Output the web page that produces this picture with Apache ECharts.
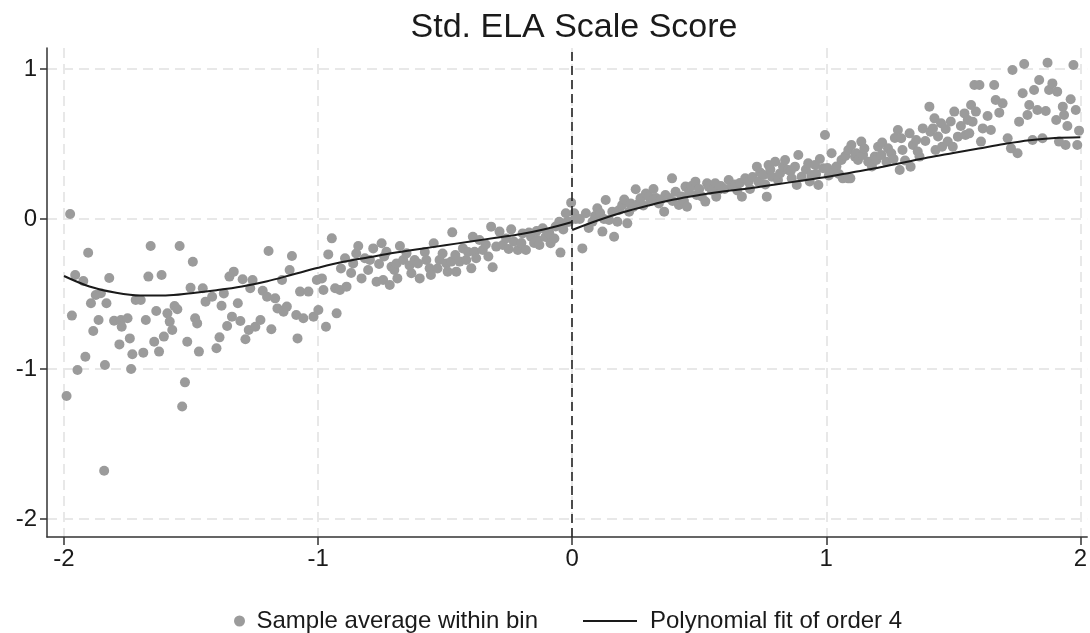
<!DOCTYPE html>
<html>
<head>
<meta charset="utf-8">
<title>Std. ELA Scale Score</title>
<script src="https://cdn.jsdelivr.net/npm/echarts@6/dist/echarts.min.js"></script>
<style>
  html, body { margin: 0; padding: 0; background: #ffffff; }
  #chart { width: 1090px; height: 633px; }
</style>
</head>
<body>
<div id="chart"></div>
<script>
// Running variable (centred at the cutoff) and axis ticks
const xTicks = [-2, -1, 0, 1, 2];
const yTicks = [-2, -1, 0, 1];

// Binned sample averages below the cutoff: [bin centre, mean score]
const binsBelow = [
  [-1.990, -1.180], [-1.976, 0.033], [-1.969, -0.644], [-1.956, -0.373], [-1.947, -1.007],
  [-1.924, -0.413], [-1.916, -0.918], [-1.905, -0.225], [-1.894, -0.562], [-1.885, -0.747],
  [-1.875, -0.507], [-1.864, -0.673], [-1.855, -0.495], [-1.842, -1.678], [-1.839, -0.973],
  [-1.833, -0.562], [-1.822, -0.393], [-1.803, -0.678], [-1.782, -0.836], [-1.776, -0.673],
  [-1.773, -0.718], [-1.750, -0.662], [-1.741, -0.796], [-1.736, -1.000], [-1.731, -0.902],
  [-1.718, -0.540], [-1.698, -0.540], [-1.688, -0.891], [-1.678, -0.673], [-1.668, -0.384],
  [-1.659, -0.180], [-1.645, -0.818], [-1.637, -0.613], [-1.626, -0.884], [-1.616, -0.373],
  [-1.607, -0.784], [-1.593, -0.629], [-1.584, -0.684], [-1.574, -0.740], [-1.565, -0.580],
  [-1.554, -0.602], [-1.545, -0.180], [-1.535, -1.250], [-1.524, -1.089], [-1.515, -0.818],
  [-1.502, -0.458], [-1.493, -0.285], [-1.484, -0.662], [-1.476, -0.696], [-1.469, -0.884],
  [-1.454, -0.462], [-1.443, -0.551], [-1.417, -0.518], [-1.400, -0.862], [-1.388, -0.789],
  [-1.380, -0.578], [-1.371, -0.496], [-1.358, -0.713], [-1.349, -0.384], [-1.339, -0.651],
  [-1.332, -0.351], [-1.316, -0.562], [-1.306, -0.680], [-1.297, -0.402], [-1.286, -0.802],
  [-1.273, -0.740], [-1.267, -0.462], [-1.258, -0.407], [-1.247, -0.718], [-1.227, -0.673],
  [-1.218, -0.478], [-1.201, -0.518], [-1.195, -0.213], [-1.184, -0.735], [-1.169, -0.529],
  [-1.160, -0.596], [-1.142, -0.407], [-1.136, -0.618], [-1.123, -0.584], [-1.112, -0.340],
  [-1.103, -0.247], [-1.086, -0.640], [-1.081, -0.796], [-1.071, -0.484], [-1.058, -0.662],
  [-1.038, -0.484], [-1.018, -0.651], [-1.005, -0.407], [-0.999, -0.607], [-0.985, -0.396],
  [-0.979, -0.473], [-0.969, -0.718], [-0.960, -0.236], [-0.946, -0.129], [-0.933, -0.462],
  [-0.927, -0.629], [-0.914, -0.473], [-0.910, -0.330], [-0.894, -0.262], [-0.888, -0.451],
  [-0.870, -0.360], [-0.862, -0.296], [-0.850, -0.230], [-0.842, -0.180], [-0.829, -0.396],
  [-0.816, -0.262], [-0.803, -0.340], [-0.796, -0.273], [-0.783, -0.196], [-0.770, -0.418],
  [-0.760, -0.300], [-0.750, -0.162], [-0.744, -0.407], [-0.740, -0.250], [-0.731, -0.218],
  [-0.718, -0.440], [-0.711, -0.318], [-0.700, -0.340], [-0.691, -0.296], [-0.688, -0.396],
  [-0.678, -0.180], [-0.665, -0.273], [-0.652, -0.229], [-0.640, -0.310], [-0.633, -0.362],
  [-0.620, -0.273], [-0.607, -0.296], [-0.600, -0.396], [-0.580, -0.220], [-0.574, -0.273],
  [-0.561, -0.329], [-0.556, -0.373], [-0.545, -0.162], [-0.530, -0.330], [-0.522, -0.273],
  [-0.510, -0.230], [-0.495, -0.296], [-0.490, -0.351], [-0.476, -0.284], [-0.472, -0.089],
  [-0.460, -0.240], [-0.456, -0.351], [-0.443, -0.284], [-0.430, -0.196], [-0.417, -0.273],
  [-0.410, -0.220], [-0.397, -0.329], [-0.391, -0.118], [-0.384, -0.218], [-0.378, -0.262],
  [-0.365, -0.140], [-0.352, -0.207], [-0.340, -0.170], [-0.330, -0.250], [-0.319, -0.051],
  [-0.313, -0.322], [-0.299, -0.184], [-0.286, -0.084], [-0.273, -0.173], [-0.260, -0.130],
  [-0.250, -0.200], [-0.240, -0.069], [-0.230, -0.150], [-0.214, -0.207], [-0.200, -0.160],
  [-0.195, -0.096], [-0.182, -0.207], [-0.170, -0.090], [-0.162, -0.118], [-0.150, -0.160],
  [-0.140, -0.080], [-0.136, -0.140], [-0.129, -0.173], [-0.116, -0.062], [-0.105, -0.120],
  [-0.090, -0.096], [-0.085, -0.162], [-0.070, -0.130], [-0.065, -0.050], [-0.051, -0.018],
  [-0.046, -0.224], [-0.035, -0.070], [-0.025, 0.038], [-0.020, -0.020], [-0.012, -0.018],
  [-0.004, 0.109]
];

// Binned sample averages above the cutoff
const binsAbove = [
  [0.008, 0.038], [0.014, 0.000], [0.030, 0.000], [0.040, -0.196], [0.054, 0.038],
  [0.065, -0.060], [0.080, -0.018], [0.090, 0.020], [0.099, 0.071], [0.110, 0.040],
  [0.119, -0.084], [0.125, 0.000], [0.132, 0.127], [0.145, -0.007], [0.158, 0.049],
  [0.165, -0.118], [0.178, -0.018], [0.185, 0.060], [0.197, 0.093], [0.205, 0.130],
  [0.217, -0.029], [0.224, 0.049], [0.230, 0.104], [0.240, 0.080], [0.250, 0.198],
  [0.260, 0.100], [0.269, 0.138], [0.280, 0.090], [0.290, 0.170], [0.302, 0.149],
  [0.310, 0.120], [0.320, 0.200], [0.330, 0.140], [0.341, 0.104], [0.350, 0.130],
  [0.362, 0.049], [0.367, 0.160], [0.380, 0.140], [0.393, 0.271], [0.395, 0.120],
  [0.407, 0.182], [0.420, 0.093], [0.430, 0.150], [0.440, 0.120], [0.446, 0.216],
  [0.452, 0.082], [0.460, 0.180], [0.470, 0.220], [0.485, 0.249], [0.490, 0.160],
  [0.500, 0.200], [0.510, 0.150], [0.524, 0.116], [0.531, 0.238], [0.537, 0.216],
  [0.550, 0.190], [0.563, 0.238], [0.567, 0.149], [0.576, 0.193], [0.585, 0.220],
  [0.600, 0.200], [0.616, 0.260], [0.629, 0.227], [0.640, 0.230], [0.650, 0.190],
  [0.660, 0.240], [0.668, 0.149], [0.681, 0.271], [0.694, 0.249], [0.700, 0.200],
  [0.710, 0.280], [0.727, 0.349], [0.733, 0.249], [0.740, 0.310], [0.753, 0.293],
  [0.760, 0.230], [0.766, 0.149], [0.773, 0.360], [0.780, 0.330], [0.786, 0.282],
  [0.799, 0.382], [0.810, 0.260], [0.818, 0.304], [0.830, 0.350], [0.838, 0.393],
  [0.851, 0.327], [0.860, 0.320], [0.864, 0.271], [0.877, 0.349], [0.884, 0.227],
  [0.890, 0.427], [0.903, 0.282], [0.920, 0.330], [0.929, 0.371], [0.935, 0.250],
  [0.942, 0.293], [0.956, 0.360], [0.960, 0.300], [0.969, 0.227], [0.975, 0.400],
  [0.988, 0.338], [0.995, 0.560], [1.005, 0.340], [1.010, 0.290], [1.021, 0.438],
  [1.033, 0.316], [1.040, 0.350], [1.050, 0.300], [1.060, 0.393], [1.065, 0.271],
  [1.075, 0.420], [1.086, 0.271], [1.087, 0.460], [1.095, 0.271], [1.099, 0.493],
  [1.113, 0.416], [1.118, 0.438], [1.125, 0.393], [1.138, 0.516], [1.145, 0.427],
  [1.150, 0.470], [1.165, 0.382], [1.180, 0.350], [1.191, 0.416], [1.197, 0.393],
  [1.204, 0.482], [1.217, 0.427], [1.220, 0.510], [1.237, 0.382], [1.243, 0.471],
  [1.256, 0.438], [1.265, 0.400], [1.270, 0.540], [1.282, 0.593], [1.289, 0.327],
  [1.295, 0.538], [1.300, 0.460], [1.310, 0.390], [1.328, 0.571], [1.332, 0.349],
  [1.341, 0.493], [1.354, 0.527], [1.360, 0.450], [1.367, 0.416], [1.380, 0.604],
  [1.390, 0.520], [1.406, 0.749], [1.410, 0.582], [1.420, 0.604], [1.426, 0.671],
  [1.430, 0.460], [1.440, 0.550], [1.452, 0.638], [1.456, 0.482], [1.470, 0.600],
  [1.478, 0.516], [1.490, 0.650], [1.498, 0.482], [1.504, 0.716], [1.518, 0.549],
  [1.530, 0.620], [1.544, 0.704], [1.548, 0.560], [1.557, 0.660], [1.563, 0.571],
  [1.570, 0.760], [1.576, 0.649], [1.583, 0.893], [1.589, 0.716], [1.603, 0.893],
  [1.609, 0.516], [1.616, 0.604], [1.635, 0.687], [1.648, 0.593], [1.661, 0.893],
  [1.667, 0.793], [1.681, 0.709], [1.694, 0.771], [1.714, 0.538], [1.727, 0.471],
  [1.733, 0.993], [1.753, 0.438], [1.759, 0.649], [1.773, 0.838], [1.779, 1.033],
  [1.792, 0.693], [1.799, 0.760], [1.812, 0.527], [1.818, 0.860], [1.831, 0.727],
  [1.838, 0.927], [1.851, 0.538], [1.864, 0.720], [1.871, 1.042], [1.877, 0.860],
  [1.890, 0.904], [1.905, 0.660], [1.909, 0.849], [1.916, 0.516], [1.931, 0.749],
  [1.936, 0.693], [1.942, 0.493], [1.949, 0.620], [1.962, 0.798], [1.973, 1.027],
  [1.982, 0.727], [1.988, 0.493], [1.995, 0.589]
];

// Fourth-order polynomial fits on each side of the cutoff, traced at 0.1 steps
const fitBelow = [
  [-2.0, -0.380], [-1.9, -0.450], [-1.8, -0.490], [-1.7, -0.510], [-1.6, -0.510],
  [-1.5, -0.495], [-1.4, -0.475], [-1.3, -0.450], [-1.2, -0.415], [-1.1, -0.370],
  [-1.0, -0.325], [-0.9, -0.285], [-0.8, -0.255], [-0.7, -0.225], [-0.6, -0.200],
  [-0.5, -0.175], [-0.4, -0.150], [-0.3, -0.125], [-0.2, -0.100], [-0.1, -0.065],
  [0.0, -0.020]
];
const fitAbove = [
  [0.0, -0.073], [0.1, -0.010], [0.2, 0.045], [0.3, 0.090], [0.4, 0.130],
  [0.5, 0.160], [0.6, 0.185], [0.7, 0.205], [0.8, 0.230], [0.9, 0.255],
  [1.0, 0.280], [1.1, 0.310], [1.2, 0.340], [1.3, 0.375], [1.4, 0.410],
  [1.5, 0.440], [1.6, 0.470], [1.7, 0.500], [1.8, 0.525], [1.9, 0.540],
  [2.0, 0.545]
];

const FONT = "'Liberation Sans', Arial, Helvetica, sans-serif";
const INK = '#1a1a1a';
const DOT = '#9b9b9b';
const GRID = '#e8e8e8';
const SCATTER_NAME = 'Sample average within bin';
const FIT_NAME = 'Polynomial fit of order 4';

const chart = echarts.init(document.getElementById('chart'), null, { renderer: 'canvas' });

const axisLineStyle = { color: '#333333', width: 1.5 };
const gridLineStyle = { color: GRID, width: 2, type: [10, 6] };

chart.setOption({
  animation: false,
  backgroundColor: '#ffffff',
  title: {
    text: 'Std. ELA Scale Score',
    left: 574,
    top: 11,
    textAlign: 'center',
    padding: 0,
    textStyle: { fontFamily: FONT, fontSize: 34, fontWeight: 'normal', color: INK }
  },
  grid: { left: 47, right: 0, top: 48, bottom: 96, containLabel: false },
  xAxis: {
    type: 'value',
    min: -2.067,
    max: 2.027,
    axisLine: { onZero: false, lineStyle: axisLineStyle },
    axisTick: { customValues: xTicks, length: 8, lineStyle: axisLineStyle },
    axisLabel: { customValues: xTicks, fontFamily: FONT, fontSize: 24, color: INK, margin: 10 },
    splitLine: { show: true, lineStyle: gridLineStyle }
  },
  yAxis: {
    type: 'value',
    min: -2.12,
    max: 1.14,
    axisLine: { show: true, onZero: false, lineStyle: axisLineStyle },
    axisTick: { show: true, customValues: yTicks, length: 7, lineStyle: axisLineStyle },
    axisLabel: { customValues: yTicks, fontFamily: FONT, fontSize: 24, color: INK, margin: 10 },
    splitLine: { show: true, lineStyle: gridLineStyle }
  },
  legend: [
    {
      data: [{ name: SCATTER_NAME, icon: 'circle' }],
      left: 234,
      top: 609,
      itemWidth: 24,
      itemHeight: 11,
      padding: 0,
      textStyle: { fontFamily: FONT, fontSize: 24, color: INK }
    },
    {
      data: [{ name: FIT_NAME, icon: 'rect' }],
      left: 583,
      top: 609,
      itemWidth: 54,
      itemHeight: 2,
      padding: 0,
      itemStyle: { color: INK },
      textStyle: { fontFamily: FONT, fontSize: 24, color: INK, padding: [0, 0, 0, 8] }
    }
  ],
  series: [
    {
      name: SCATTER_NAME,
      type: 'scatter',
      data: binsBelow.concat(binsAbove),
      symbol: 'circle',
      symbolSize: 10,
      itemStyle: { color: DOT, opacity: 1 },
      z: 2,
      markLine: {
        silent: true,
        symbol: 'none',
        label: { show: false },
        lineStyle: { color: '#222222', width: 1.6, type: [9, 5] },
        data: [{ xAxis: 0 }]
      }
    },
    {
      name: FIT_NAME,
      type: 'line',
      data: fitBelow,
      smooth: 0.35,
      symbol: 'none',
      lineStyle: { color: INK, width: 2 },
      itemStyle: { color: INK },
      z: 3
    },
    {
      name: FIT_NAME,
      type: 'line',
      data: fitAbove,
      smooth: 0.35,
      symbol: 'none',
      lineStyle: { color: INK, width: 2 },
      itemStyle: { color: INK },
      z: 3
    }
  ]
});
</script>
</body>
</html>
